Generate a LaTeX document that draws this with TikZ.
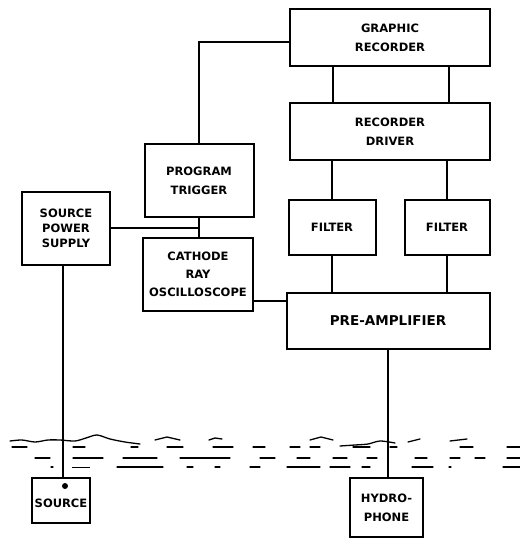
\documentclass[tikz,border=0pt]{standalone}
\usepackage{fontspec}
\setmainfont{DejaVu Sans}
\usetikzlibrary{calc}
\begin{document}
\begin{tikzpicture}[x=1pt,y=-1pt,
  box/.style={draw, line width=2pt, inner sep=0pt, align=center, font=\bfseries\fontsize{11.5}{19}\selectfont},
  wire/.style={line width=1.9pt},
  wave/.style={line width=1.3pt, line cap=round}]
\useasboundingbox (0,0) rectangle (520,539);
\fill[white] (0,0) rectangle (520,539);

% boxes
\node[box, minimum width=200pt, minimum height=57pt] (gr) at (390,37.5) {GRAPHIC\\RECORDER};
\node[box, minimum width=200pt, minimum height=57pt] (rd) at (390,131.5) {RECORDER\\DRIVER};
\node[box, minimum width=109pt, minimum height=73pt] (pt) at (199,180.5) {PROGRAM\\TRIGGER};
\node[box, minimum width=110pt, minimum height=73pt, font=\bfseries\fontsize{11.5}{18}\selectfont] (cro) at (198,274.5) {CATHODE\\RAY\\OSCILLOSCOPE};
\node[box, minimum width=88pt, minimum height=73pt, font=\bfseries\fontsize{11.5}{15}\selectfont] (sps) at (66,228) {SOURCE\\POWER\\SUPPLY};
\node[box, minimum width=87pt, minimum height=55pt] (f1) at (332,227.5) {FILTER};
\node[box, minimum width=85pt, minimum height=55pt] (f2) at (447,227.5) {FILTER};
\node[box, minimum width=203pt, minimum height=56pt, font=\bfseries\fontsize{13.5}{16}\selectfont] (pa) at (388,321) {PRE-AMPLIFIER};
\node[box, minimum width=58pt, minimum height=45pt, text depth=0pt] (src) at (61,500.5) {\raisebox{-6pt}{SOURCE}};
\node[box, minimum width=73pt, minimum height=59pt] (hyd) at (386.5,507.5) {HYDRO-\\PHONE};
\node[circle, fill, inner sep=0pt, minimum size=6pt] (dot) at (65,486) {};

% connectors
\draw[wire] ([yshift=-4.5pt]gr.west) -| (pt.north);
\draw[wire] ([xshift=-57pt]gr.south) -- ([xshift=-57pt]rd.north);
\draw[wire] ([xshift=59pt]gr.south) -- ([xshift=59pt]rd.north);
\draw[wire] (f1.north |- rd.south) -- (f1.north);
\draw[wire] (f2.north |- rd.south) -- (f2.north);
\draw[wire] (f1.south) -- (f1.south |- pa.north);
\draw[wire] (f2.south) -- (f2.south |- pa.north);
\draw[wire] (pt.south) -- (pt.south |- cro.north);
\coordinate (j) at ($(pt.south)!0.5!(pt.south |- cro.north)$);
\draw[wire] (sps.east) -- (sps.east -| j);
\draw[wire] ([yshift=-26.5pt]cro.east) -- ([yshift=-26.5pt]cro.east -| pa.west);
\draw[wire] ([xshift=-3pt]sps.south) -- ([xshift=-3pt]sps.south |- src.north);
\draw[wire] (pa.south) -- (pa.south |- hyd.north);

% water surface
\draw[wave] plot[smooth] coordinates {(10,441) (22,440) (35,442) (48,440) (60,440) (75,441) (86,438) (97,435) (110,439) (125,442) (140,444)};
\draw[wave] (155,440) -- (167,437) -- (180,440);
\draw[wave] (209,440) -- (215,438) -- (222,439);
\draw[wave] (310,440) -- (321,437) -- (333,440);
\draw[wave] plot[smooth] coordinates {(340,446) (355,445) (368,444) (380,441) (395,443)};
\draw[wave] (408,442) -- (420,439);
\draw[wave] (450,441) -- (467,439);
\foreach \a/\b in {12/27,73/85,131/138,167/183,213/233,253/265,290/300,310/320,353/370,390/397,460/473,507/520}
  \draw[wave] (\a,447) -- (\b,447);
\foreach \a/\b in {35/50,73/103,123/157,180/230,260/275,297/310,333/347,367/377,415/427,450/460,475/485,507/520}
  \draw[wave] (\a,458) -- (\b,458);
\foreach \a/\b in {51/53,117/163,187/193,215/220,250/260,287/320,330/350,362/370,412/433,449/451,503/520}
  \draw[wave] (\a,467) -- (\b,467);
\draw[line width=0.7pt] (72,467) -- (90,467);
\end{tikzpicture}
\end{document}
